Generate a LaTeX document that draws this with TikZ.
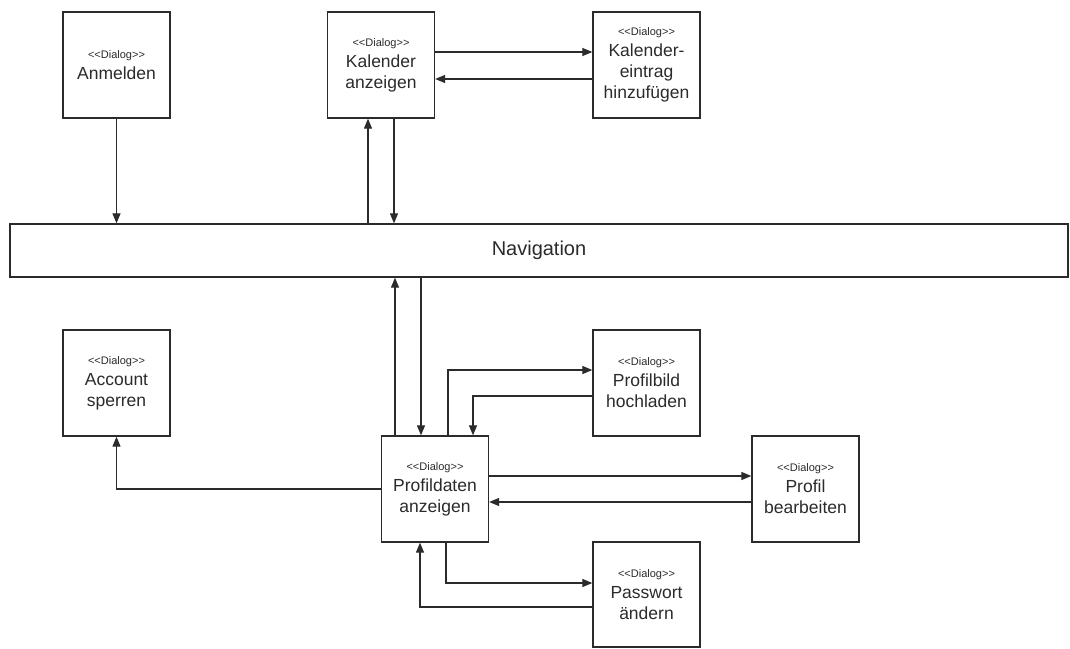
\documentclass[tikz,border=0pt]{standalone}
\usepackage{fontspec}
\setmainfont{Liberation Sans}
\usetikzlibrary{arrows.meta}
\definecolor{ink}{HTML}{2B2B2B}
\newcommand{\dlg}{{\fontsize{11}{12}\selectfont <\kern0pt<Dialog>\kern0pt>}}
\tikzset{
  dialogbox/.style={draw=ink, line width=1.3pt, fill=white, minimum width=107pt, minimum height=106pt,
    inner sep=2pt, align=center, text=ink, font=\fontsize{17.5}{21}\selectfont},
  navbox/.style={draw=ink, line width=1.3pt, fill=white, minimum width=1058pt, minimum height=53pt,
    text=ink, font=\fontsize{20}{24}\selectfont},
  conn/.style={draw=ink, line width=1.2pt, -{Triangle[length=10pt,width=8pt]}}
}
\begin{document}
\begin{tikzpicture}[x=1pt,y=-1pt]
\useasboundingbox (0,0) rectangle (1070,648);

% dialog boxes
\node[dialogbox] (anm) at (116.5,65) {\dlg\\Anmelden};
\node[dialogbox] (kal) at (381,65) {\dlg\\Kalender\\anzeigen};
\node[dialogbox] (ein) at (646.5,65) {\dlg\\Kalender-\\eintrag\\hinzufügen};
\node[navbox] (nav) at (539,250.5) {Navigation};
\node[dialogbox] (acc) at (116.5,383) {\dlg\\Account\\sperren};
\node[dialogbox] (pb) at (646.5,383) {\dlg\\Profilbild\\hochladen};
\node[dialogbox] (pd) at (435,489) {\dlg\\Profildaten\\anzeigen};
\node[dialogbox] (pe) at (805.5,489) {\dlg\\Profil\\bearbeiten};
\node[dialogbox, minimum height=105pt] (pw) at (646.5,594.5) {\dlg\\Passwort\\ändern};

% top row links
\draw[conn] (anm.south) -- (anm.south |- nav.north);
\draw[conn] ([xshift=-13pt]kal.south |- nav.north) -- ([xshift=-13pt]kal.south);
\draw[conn] ([xshift=13pt]kal.south) -- ([xshift=13pt]kal.south |- nav.north);
\draw[conn] ([yshift=13pt]kal.east) -- ([yshift=13pt]kal.east -| ein.west);
\draw[conn] ([yshift=-14pt]ein.west) -- ([yshift=-14pt]ein.west -| kal.east);

% navigation <-> profile data
\draw[conn] ([xshift=-40pt]pd.north) -- ([xshift=-40pt]pd.north |- nav.south);
\draw[conn] ([xshift=-14pt]pd.north |- nav.south) -- ([xshift=-14pt]pd.north);

% profile data <-> sub dialogs
\draw[conn] ([xshift=13pt]pd.north) |- ([yshift=13pt]pb.west);
\draw[conn] ([yshift=-13pt]pb.west) -| ([xshift=38pt]pd.north);
\draw[conn] ([yshift=13pt]pd.east) -- ([yshift=13pt]pd.east -| pe.west);
\draw[conn] ([yshift=-13pt]pe.west) -- ([yshift=-13pt]pe.west -| pd.east);
\draw[conn] ([xshift=11pt]pd.south) |- ([yshift=11.5pt]pw.west);
\draw[conn] ([yshift=-12.5pt]pw.west) -| ([xshift=-15pt]pd.south);
\draw[conn] (pd.west) -| (acc.south);
\end{tikzpicture}
\end{document}
